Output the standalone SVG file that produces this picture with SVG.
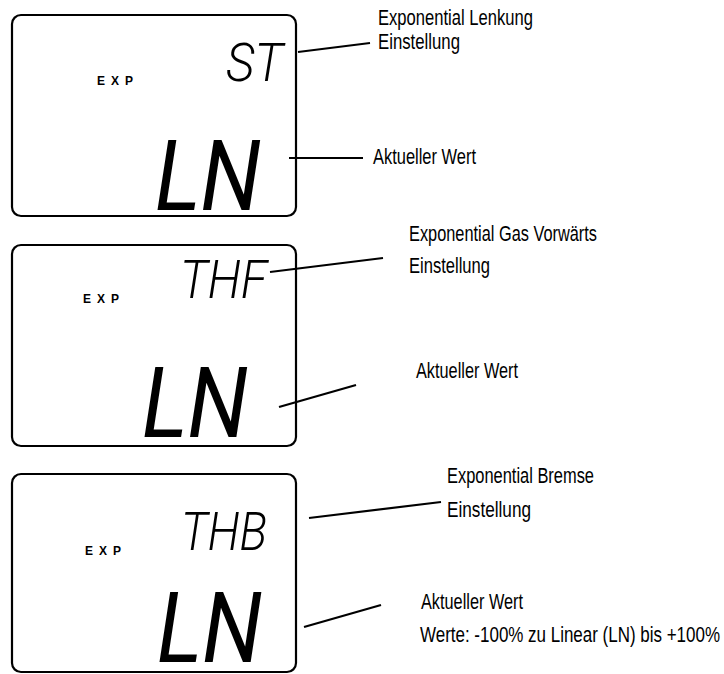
<svg xmlns="http://www.w3.org/2000/svg" width="724" height="674" viewBox="0 0 724 674">
<style>
.box{fill:none;stroke:#000;stroke-width:2.2}
.con line{stroke:#000;stroke-width:2.2;stroke-linecap:butt}
.lbl{font-family:"Liberation Sans",Arial,sans-serif;font-size:22px;fill:#000;font-weight:normal}
.exp{font-family:"Liberation Sans",Arial,sans-serif;font-size:12px;font-weight:bold;letter-spacing:6px;fill:#000}
.lcd{font-family:Roboto,"DejaVu Sans",sans-serif;font-style:italic;fill:#000}
.sm{font-size:53px;font-weight:300}
.lg{font-size:98px;font-weight:400}
</style>
<rect width="724" height="674" fill="#fff"/>
<g id="display1">
<rect class="box" x="12" y="15" width="284" height="201" rx="9"/>
<text class="exp" x="97" y="85">EXP</text>
<text class="lcd sm" x="226" y="81" textLength="57" lengthAdjust="spacingAndGlyphs">ST</text>
<text class="lcd lg" x="155" y="210" textLength="106" lengthAdjust="spacingAndGlyphs">LN</text>
</g>
<g id="display2">
<rect class="box" x="12" y="245" width="284" height="201" rx="9"/>
<text class="exp" x="83" y="303">EXP</text>
<text class="lcd sm" x="180" y="298" textLength="87" lengthAdjust="spacingAndGlyphs">THF</text>
<text class="lcd lg" x="142" y="437" textLength="106" lengthAdjust="spacingAndGlyphs">LN</text>
</g>
<g id="display3">
<rect class="box" x="12" y="474" width="284" height="198" rx="9"/>
<text class="exp" x="85" y="555">EXP</text>
<text class="lcd sm" x="181" y="550" textLength="86" lengthAdjust="spacingAndGlyphs">THB</text>
<text class="lcd" transform="translate(157,662) scale(1,1.633)" x="0" y="0" style="font-size:60px;font-weight:400" textLength="105" lengthAdjust="spacingAndGlyphs">LN</text>
</g>
<g id="connectors" class="con">
<line x1="298" y1="52" x2="370" y2="43"/>
<line x1="289" y1="158" x2="363" y2="158"/>
<line x1="270" y1="272" x2="383" y2="258"/>
<line x1="279" y1="407" x2="356" y2="385"/>
<line x1="309" y1="518" x2="441" y2="502"/>
<line x1="304" y1="627" x2="381" y2="605"/>
</g>
<g id="labels">
<text class="lbl" x="378" y="25" textLength="155" lengthAdjust="spacingAndGlyphs">Exponential Lenkung</text>
<text class="lbl" x="378" y="49" textLength="82" lengthAdjust="spacingAndGlyphs">Einstellung</text>
<text class="lbl" x="373" y="164" textLength="103" lengthAdjust="spacingAndGlyphs">Aktueller Wert</text>
<text class="lbl" x="409" y="241" textLength="188" lengthAdjust="spacingAndGlyphs">Exponential Gas Vorwärts</text>
<text class="lbl" x="409" y="273" textLength="81" lengthAdjust="spacingAndGlyphs">Einstellung</text>
<text class="lbl" x="416" y="378" textLength="102" lengthAdjust="spacingAndGlyphs">Aktueller Wert</text>
<text class="lbl" x="447" y="483" textLength="147" lengthAdjust="spacingAndGlyphs">Exponential Bremse</text>
<text class="lbl" x="447" y="517" textLength="84" lengthAdjust="spacingAndGlyphs">Einstellung</text>
<text class="lbl" x="421" y="609" textLength="102" lengthAdjust="spacingAndGlyphs">Aktueller Wert</text>
<text class="lbl" transform="translate(420,642) scale(1,1.375)" x="0" y="0" style="font-size:16px" textLength="300" lengthAdjust="spacingAndGlyphs">Werte: -100% zu Linear (LN) bis +100%</text>
</g>
</svg>
